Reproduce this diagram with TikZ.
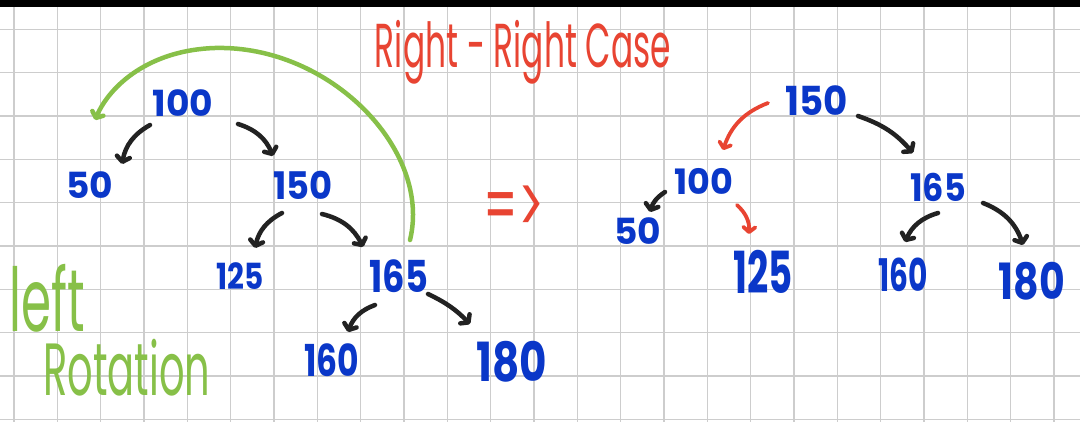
\documentclass[tikz,border=0pt]{standalone}
\usepackage{fontspec}
\setmainfont{Poppins}
\usetikzlibrary{arrows.meta}
\definecolor{nblue}{RGB}{10,55,200}
\definecolor{nred}{RGB}{232,68,50}
\definecolor{ngreen}{RGB}{135,192,72}
\definecolor{nblack}{RGB}{34,34,34}
\definecolor{ngrid}{RGB}{205,205,205}
\tikzset{
  num/.style={text=nblue, inner sep=0pt, font=\bfseries},
  arr/.style={draw=nblack, line width=4.5pt, line cap=round,
    -{Straight Barb[round, length=5pt, width=13pt]}},
  rarr/.style={draw=nred, line width=3.8pt, line cap=round,
    -{Straight Barb[round, length=5pt, width=12pt]}},
  garr/.style={draw=ngreen, line width=4.5pt, line cap=round,
    -{Straight Barb[round, length=5pt, width=12pt]}},
}
\newcommand{\fs}[1]{\fontsize{#1}{#1}\selectfont}
\begin{document}
\begin{tikzpicture}[x=1pt,y=1pt]
\useasboundingbox (0,0) rectangle (1080,-422);
\fill[white] (0,0) rectangle (1080,-422);
% grid
\foreach \k in {0,...,24} \draw[ngrid, line width=1.4pt] ({14+43.33*\k},0) -- ({14+43.33*\k},-422);
\foreach \k in {0,...,9} \draw[ngrid, line width=1.4pt] (0,{-29.3-43.33*\k}) -- (1080,{-29.3-43.33*\k});
\fill[black] (0,0) rectangle (1080,-7);

% left tree
\node[num, font=\fs{36}\bfseries] (L100) at (183,-103) {100};
\node[num, font=\fs{36}\bfseries] (L50) at (90,-185) {50};
\node[num, font=\fs{38}\bfseries] (L150) at (303,-185) {\scalebox{0.93}[1]{150}};
\node[num, font=\fs{36}\bfseries] (L125) at (240,-276) {\scalebox{0.82}[1]{125}};
\node[num, font=\fs{44}\bfseries] (L165) at (399,-276) {\scalebox{0.8}[1]{165}};
\node[num, font=\fs{44}\bfseries] (L160) at (332,-360) {\scalebox{0.75}[1]{160}};
\node[num, font=\fs{54}\bfseries] (L180) at (512,-362) {\scalebox{0.78}[1]{180}};

\draw[arr] ([shift={(-33,-22)}]L100.center) to[bend right=25] ([shift={(32,21)}]L50.center);
\draw[arr] ([shift={(55,-21)}]L100.center) to[bend left=25] ([shift={(-30,29)}]L150.center);
\draw[arr] ([shift={(-21,-28)}]L150.center) to[bend right=25] ([shift={(15,28)}]L125.center);
\draw[arr] ([shift={(19,-29)}]L150.center) to[bend left=25] ([shift={(-36,29)}]L165.center);
\draw[arr] ([shift={(-24,-29)}]L165.center) to[bend right=25] ([shift={(16,28)}]L160.center);
\draw[arr] ([shift={(29,-18)}]L165.center) to[bend left=10] ([shift={(-42,38)}]L180.center);

% green rotation arc
\draw[garr] ([shift={(11,36)}]L165.center) .. controls (432,-150) and (330,-45) .. (215,-48)
  .. controls (150,-50) and (110,-85) .. ([shift={(-88,-17)}]L100.center);

% labels
\node[text=ngreen, inner sep=0pt, font=\fs{88}] (left) at (47,-298) {\scalebox{0.55}[1]{left}};
\node[text=ngreen, inner sep=0pt, font=\fs{74}] (rot) at (127,-368) {\scalebox{0.54}[1]{Rotation}};
\node[text=nred, inner sep=0pt, font=\fs{62}] (title) at (523,-52) {\scalebox{0.53}[1]{Right - Right Case}};
\node[text=nred, inner sep=0pt, font=\fs{80}] (imp) at (514,-210) {\scalebox{0.6}[1]{=>}};

% right tree
\node[num, font=\fs{40}\bfseries] (R150) at (817,-101) {\scalebox{0.93}[1]{150}};
\node[num, font=\fs{35}\bfseries] (R100) at (704,-181) {100};
\node[num, font=\fs{36}\bfseries] (R50) at (638,-231) {50};
\node[num, font=\fs{58}\bfseries] (R125) at (763,-272) {\scalebox{0.64}[1]{125}};
\node[num, font=\fs{38}\bfseries] (R165) at (938,-187) {\scalebox{0.88}[1]{165}};
\node[num, font=\fs{45}\bfseries] (R160) at (903,-275) {\scalebox{0.66}[1]{160}};
\node[num, font=\fs{50}\bfseries] (R180) at (1032,-281) {\scalebox{0.79}[1]{180}};

\draw[rarr] ([shift={(-49,-2)}]R150.center) to[bend right=25] ([shift={(19,31)}]R100.center);
\draw[arr] ([shift={(41,-15)}]R150.center) to[bend left=15] ([shift={(-25,34)}]R165.center);
\draw[arr] ([shift={(-39,-11)}]R100.center) to[bend right=20] ([shift={(12,19)}]R50.center);
\draw[rarr] ([shift={(33,-24)}]R100.center) to[bend left=25] ([shift={(-14,38)}]R125.center);
\draw[arr] ([shift={(0,-26)}]R165.center) to[bend right=25] ([shift={(2,33)}]R160.center);
\draw[arr] ([shift={(45,-16)}]R165.center) to[bend left=25] ([shift={(-9,36)}]R180.center);
\end{tikzpicture}
\end{document}
